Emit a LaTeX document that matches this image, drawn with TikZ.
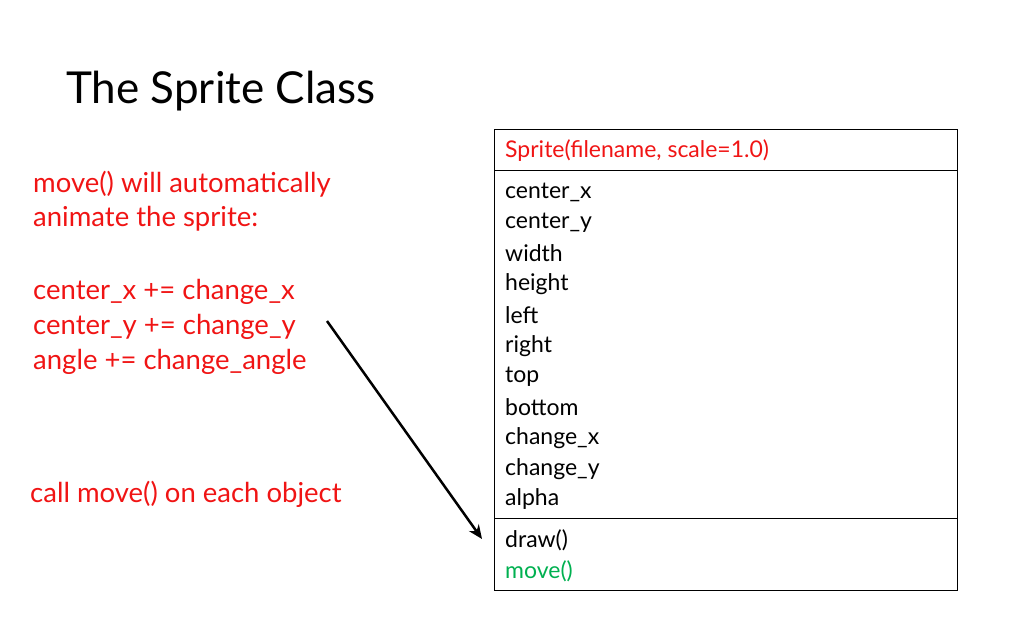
\documentclass[tikz,border=0pt]{standalone}
\usepackage{fontspec}
\setmainfont{Lato}
\usetikzlibrary{arrows.meta}
\definecolor{redt}{RGB}{240,20,20}
\definecolor{greent}{RGB}{0,176,80}
\tikzset{
  redtxt/.style={anchor=west,text=redt,font=\fontsize{27.5}{30}\selectfont,inner sep=0pt},
  cell/.style={anchor=west,font=\fontsize{23}{25}\selectfont,inner sep=0pt},
}
\begin{document}
\begin{tikzpicture}[x=1pt,y=-1pt]
\useasboundingbox (0,0) rectangle (1024,640);
\node[anchor=west,inner sep=0pt,font=\fontsize{44}{54}\selectfont] (title) at (66,91) {The Sprite Class};
\node[redtxt] (r1) at (33,184) {move() will automatically};
\node[redtxt] (r2) at (33,219) {animate the sprite:};
\node[redtxt] (r3) at (33,292) {center\_x += change\_x};
\node[redtxt] (r4) at (33,327) {center\_y += change\_y};
\node[redtxt] (r5) at (33,362) {angle += change\_angle};
\node[redtxt] (r6) at (30,494) {call move() on each object};
\draw[line width=1pt] (494,129) rectangle (957,590);
\draw[line width=1pt] (494,170) -- (957,170);
\draw[line width=1pt] (494,518) -- (957,518);
\node[cell,text=redt] (c0) at (505,151) {Sprite(filename, scale=1.0)};
\foreach \t/\y [count=\i] in {center\_x/192,center\_y/223,width/253,height/284,left/315,right/346,top/377,bottom/407,change\_x/438,change\_y/469,alpha/499,draw()/540}
  \node[cell] (c\i) at (505,\y) {\t};
\node[cell,text=greent] (c13) at (505,571) {move()};
\coordinate (as) at (327,321);
\coordinate (ae) at (482,539);
\draw[line width=2.5pt,-{Stealth[length=14pt,width=12pt]}] (as) -- (ae);
\end{tikzpicture}
\end{document}
